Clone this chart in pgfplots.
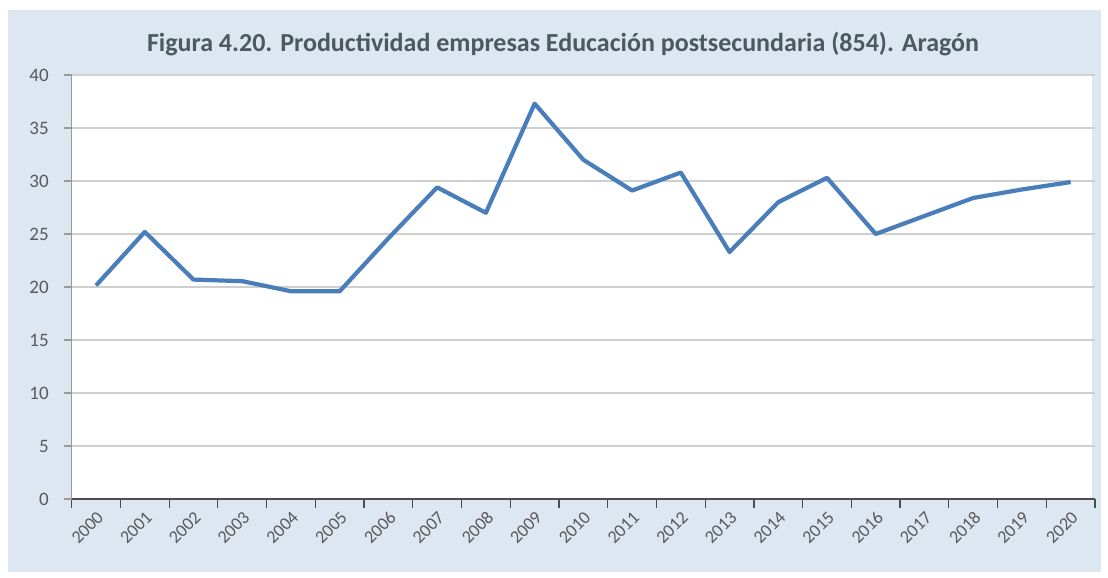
\documentclass[border=0pt]{standalone}
\usepackage{pgfplots}
\pgfplotsset{compat=1.18}
\usepackage{fontspec}
\setmainfont{Carlito}
\definecolor{bgc}{HTML}{DDE7F2}
\definecolor{linec}{HTML}{4A7EBB}
\definecolor{titlec}{HTML}{4A5A5E}
\definecolor{tickc}{HTML}{595959}
\begin{document}
\begin{tikzpicture}
\begin{scope}[x=0.5pt,y=0.5pt]
\path[use as bounding box] (0,0) rectangle (1108,-578);
\fill[bgc] (8,-10) rectangle (1101,-572);
\fill[white] (72,-75) rectangle (1092,-499);
\node[text=titlec, font=\fontsize{13}{15}\selectfont\bfseries] at (563,-44) {Figura 4.20. Productividad empresas Educación postsecundaria (854). Aragón};
\end{scope}
\begin{axis}[
  at={(35.85pt,-249.5pt)}, anchor=south west,
  scale only axis, width=511.65pt, height=212pt,
  xmin=-0.5, xmax=20.5, ymin=0, ymax=40,
  xtick={0,...,20},
  xticklabels={2000,2001,2002,2003,2004,2005,2006,2007,2008,2009,2010,2011,2012,2013,2014,2015,2016,2017,2018,2019,2020},
  minor xtick={-0.5,0.5,...,20.5},
  major x tick style={draw=none},
  minor x tick style={draw=black!70, line width=0.6pt},
  ytick={0,5,...,40},
  major y tick style={draw=gray!80, line width=0.6pt},
  ymajorgrids,
  grid style={draw=gray!38, line width=0.6pt},
  axis x line*=bottom, axis y line*=left,
  x axis line style={-, draw=black!70, line width=0.9pt},
  y axis line style={-, draw=gray!80, line width=0.6pt},
  tick align=outside,
  major tick length=4pt, minor tick length=4.5pt,
  /pgf/number format/assume math mode=true,
  xticklabel style={rotate=45, anchor=north east, font=\fontsize{9}{10}\selectfont, text=tickc, inner sep=1pt},
  yticklabel style={font=\fontsize{9.5}{11}\selectfont, text=tickc, xshift=-4pt},
]
\addplot[linec, line width=2.1pt, line join=round, mark=none] coordinates {
(0,20.15) (1,25.2) (2,20.7) (3,20.55) (4,19.6) (5,19.6) (6,24.6) (7,29.4) (8,27.0) (9,37.3)
(10,32.0) (11,29.1) (12,30.8) (13,23.3) (14,28.0) (15,30.3) (16,25.0) (17,26.7) (18,28.4) (19,29.2) (20,29.9)
};
\end{axis}
\end{tikzpicture}
\end{document}
